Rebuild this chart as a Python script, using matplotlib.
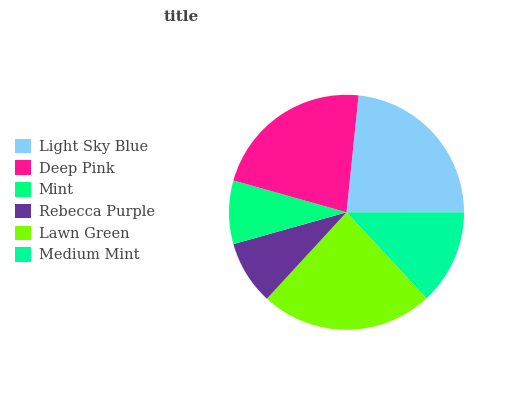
import matplotlib
matplotlib.use("Agg")
import matplotlib.pyplot as plt
from matplotlib.patches import Patch

categories = ["Light Sky Blue", "Deep Pink", "Mint", "Rebecca Purple", "Lawn Green", "Medium Mint"]
values = [23.4, 22.3, 8.75, 8.8, 23.8, 13.1]
colors = ["#87CEFA", "#FF1493", "#00FF7F", "#663399", "#7CFC00", "#00FA9A"]

# drawing order clockwise from the top
draw_order = ["Light Sky Blue", "Medium Mint", "Lawn Green", "Rebecca Purple", "Mint", "Deep Pink"]
idx = [categories.index(c) for c in draw_order]

fig = plt.figure(figsize=(5.32, 4.0), dpi=100)
ax = fig.add_axes([0, 0, 1, 1])
W, H = 532, 400
cx, cy, r = 346.5, H - 212.3, 117.5

start = 84.1
ax.pie([values[i] for i in idx], colors=[colors[i] for i in idx],
       startangle=start, counterclock=False, center=(cx, cy), radius=r,
       wedgeprops=dict(linewidth=0), frame=True)
ax.set_xlim(0, W)
ax.set_ylim(0, H)
ax.set_aspect("equal")
ax.axis("off")

fig.text(181 / W, 1 - 17 / H, "title", ha="center", va="center",
         fontsize=11, fontweight="bold", family="DejaVu Serif", color="#444444")

handles = [Patch(facecolor=c, edgecolor="none") for c in colors]
leg = fig.legend(handles, categories, loc="upper left", bbox_to_anchor=(0.0, 1 - 124 / H),
                 frameon=False, prop={"family": "DejaVu Serif", "size": 10.5},
                 handlelength=1.15, handleheight=1.15, labelspacing=0.45, handletextpad=0.5,
                 borderaxespad=0, borderpad=1.0)
for t in leg.get_texts():
    t.set_color("#444444")

fig.savefig("out.png", dpi=100)
